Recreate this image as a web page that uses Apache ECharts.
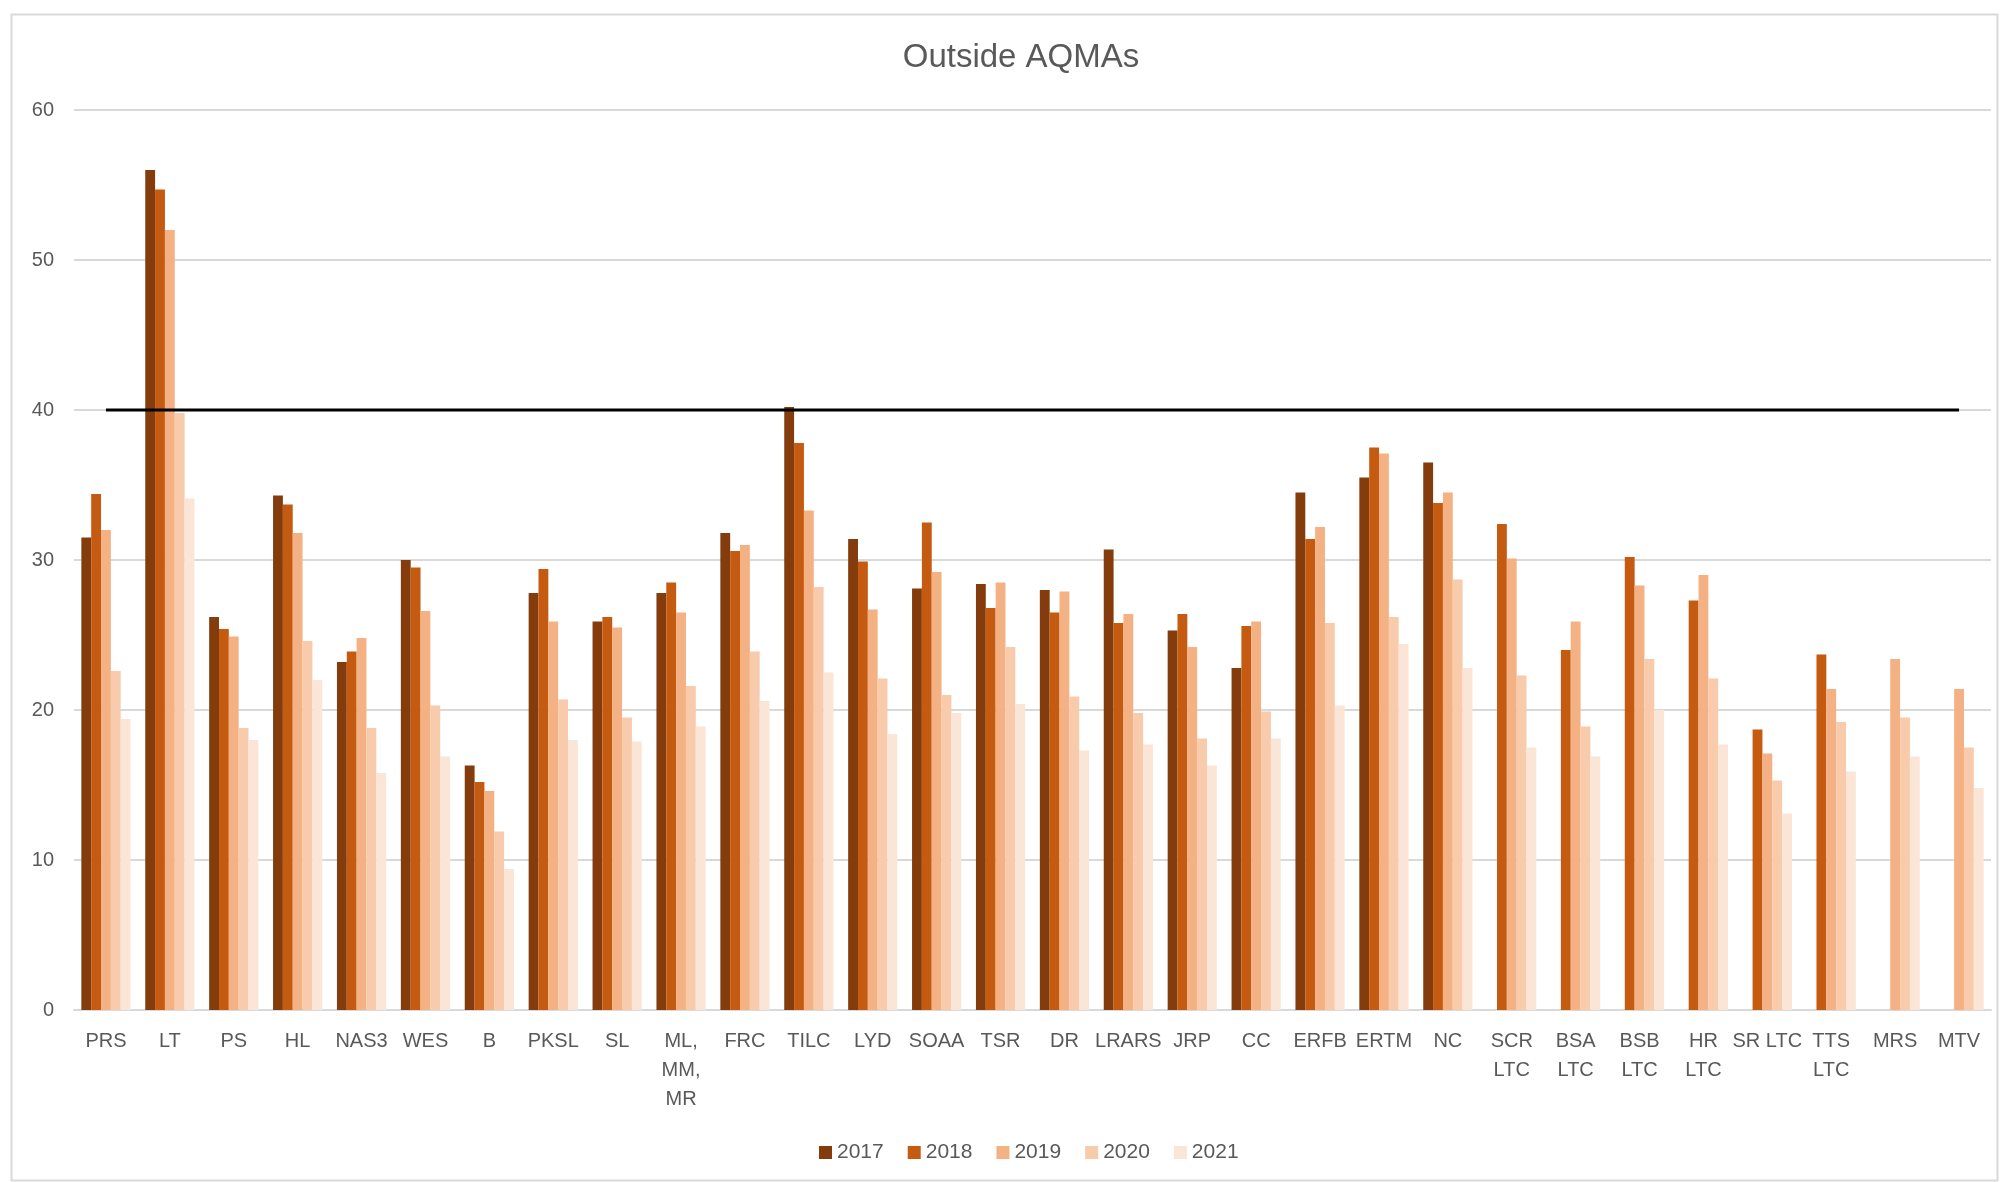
<!DOCTYPE html>
<html>
<head>
<meta charset="utf-8">
<title>Outside AQMAs</title>
<script src="https://cdn.jsdelivr.net/npm/echarts@6/dist/echarts.min.js"></script>
<style>
  html, body { margin: 0; padding: 0; background: #fff; }
  #chart { width: 2001px; height: 1182px; }
</style>
</head>
<body>
<div id="chart"></div>
<script>
// site labels (line breaks as in the original axis)
var categories = ['PRS', 'LT', 'PS', 'HL', 'NAS3', 'WES', 'B', 'PKSL', 'SL', 'ML,\nMM,\nMR',
  'FRC', 'TILC', 'LYD', 'SOAA', 'TSR', 'DR', 'LRARS', 'JRP', 'CC', 'ERFB',
  'ERTM', 'NC', 'SCR\nLTC', 'BSA\nLTC', 'BSB\nLTC', 'HR\nLTC', 'SR LTC', 'TTS\nLTC', 'MRS', 'MTV']

var years = ['2017', '2018', '2019', '2020', '2021']

var values2017 = [31.5, 56.0, 26.2, 34.3, 23.2, 30.0, 16.3, 27.8, 25.9, 27.8,
  31.8, 40.2, 31.4, 28.1, 28.4, 28.0, 30.7, 25.3, 22.8, 34.5,
  35.5, 36.5, null, null, null, null, null, null, null, null]
var values2018 = [34.4, 54.7, 25.4, 33.7, 23.9, 29.5, 15.2, 29.4, 26.2, 28.5,
  30.6, 37.8, 29.9, 32.5, 26.8, 26.5, 25.8, 26.4, 25.6, 31.4,
  37.5, 33.8, 32.4, 24.0, 30.2, 27.3, 18.7, 23.7, null, null]
var values2019 = [32.0, 52.0, 24.9, 31.8, 24.8, 26.6, 14.6, 25.9, 25.5, 26.5,
  31.0, 33.3, 26.7, 29.2, 28.5, 27.9, 26.4, 24.2, 25.9, 32.2,
  37.1, 34.5, 30.1, 25.9, 28.3, 29.0, 17.1, 21.4, 23.4, 21.4]
var values2020 = [22.6, 39.8, 18.8, 24.6, 18.8, 20.3, 11.9, 20.7, 19.5, 21.6,
  23.9, 28.2, 22.1, 21.0, 24.2, 20.9, 19.8, 18.1, 19.9, 25.8,
  26.2, 28.7, 22.3, 18.9, 23.4, 22.1, 15.3, 19.2, 19.5, 17.5]
var values2021 = [19.4, 34.1, 18.0, 22.0, 15.8, 16.9, 9.4, 18.0, 17.9, 18.9,
  20.6, 22.5, 18.4, 19.8, 20.4, 17.3, 17.7, 16.3, 18.1, 20.3,
  24.4, 22.8, 17.5, 16.9, 20.0, 17.7, 13.1, 15.9, 16.9, 14.8]

// annual mean objective
var objective = 40

var yTicks = { min: 0, max: 60, interval: 10 }

var colors = ['#843C0C', '#C55A11', '#F4B183', '#F8CBAD', '#FBE5D6']
var textColor = '#595959'
var fontFamily = '"Liberation Sans", Arial, sans-serif'

var chart = echarts.init(document.getElementById('chart'))

var yearValues = [values2017, values2018, values2019, values2020, values2021]
var series = yearValues.map(function (vals, i) {
  return {
    name: years[i],
    type: 'bar',
    data: vals,
    barGap: '0%',
    barCategoryGap: '23%',
    itemStyle: { color: colors[i] }
  }
})

series.push({
  name: 'Objective',
  type: 'line',
  data: categories.map(function () { return objective }),
  symbol: 'none',
  z: 5,
  lineStyle: { color: '#000', width: 3 },
  itemStyle: { color: '#000' }
})

var option = {
  animation: false,
  color: colors,
  textStyle: { fontFamily: fontFamily },
  title: {
    text: 'Outside AQMAs',
    left: 1016,
    textAlign: 'center',
    top: 36,
    textStyle: {
      color: textColor,
      fontSize: 33,
      fontWeight: 'normal',
      fontFamily: fontFamily
    }
  },
  // chart outline
  graphic: [{
    type: 'rect',
    left: 9,
    top: 12,
    shape: { width: 1986, height: 1166 },
    style: { fill: 'none', stroke: '#D9D9D9', lineWidth: 2 },
    silent: true
  }],
  legend: {
    data: years,
    left: 814,
    top: 1137,
    itemWidth: 13,
    itemHeight: 13,
    itemGap: 24,
    icon: 'rect',
    textStyle: { color: textColor, fontSize: 21, fontFamily: fontFamily }
  },
  grid: {
    left: 74,
    right: 10,
    top: 110,
    bottom: 172,
    containLabel: false
  },
  xAxis: {
    type: 'category',
    data: categories,
    axisTick: { show: false },
    axisLine: { lineStyle: { color: '#D9D9D9', width: 2 } },
    axisLabel: {
      color: textColor,
      fontSize: 20,
      lineHeight: 29,
      margin: 17,
      interval: 0,
      fontFamily: fontFamily
    }
  },
  yAxis: {
    type: 'value',
    min: yTicks.min,
    max: yTicks.max,
    interval: yTicks.interval,
    axisLine: { show: false },
    axisTick: { show: false },
    axisLabel: {
      color: textColor,
      fontSize: 20,
      margin: 20,
      fontFamily: fontFamily
    },
    splitLine: { lineStyle: { color: '#D9D9D9', width: 2 } }
  },
  series: series
}

chart.setOption(option)
</script>
</body>
</html>
